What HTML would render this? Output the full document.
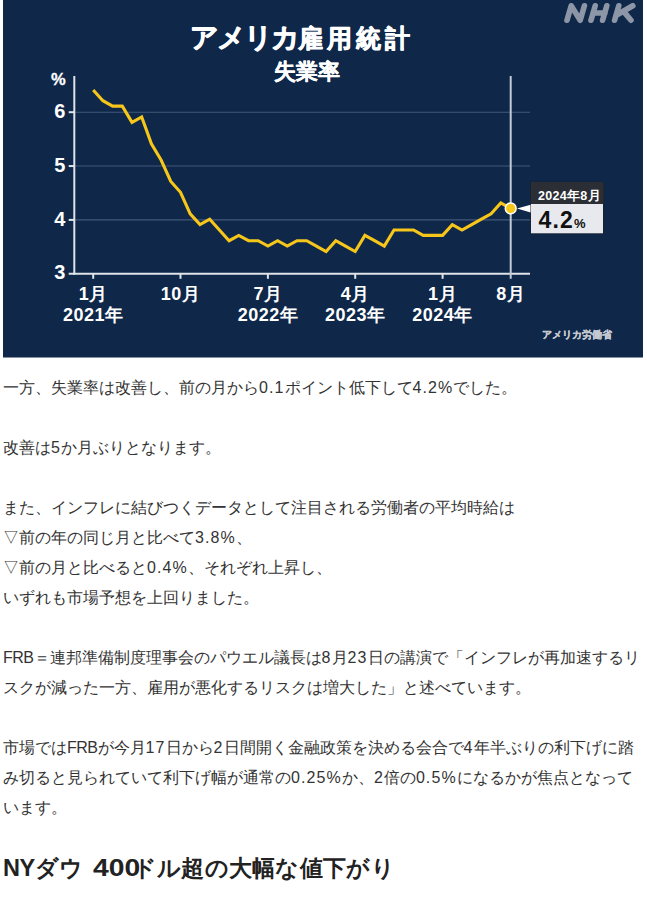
<!DOCTYPE html>
<html lang="ja">
<head>
<meta charset="utf-8">
<style>
html,body{margin:0;padding:0;background:#fff;}
body{width:647px;height:897px;overflow:hidden;position:relative;font-family:"Liberation Sans",sans-serif;}
#chart{position:absolute;left:0;top:0;}
#txt{position:absolute;left:3px;top:373px;font-size:16px;line-height:30px;color:#333;white-space:nowrap;}
#txt p{margin:0 0 30px 0;}
.l{letter-spacing:1.1px;}
.f{letter-spacing:-0.5px;}
#h{position:absolute;left:3px;top:850px;font-size:22.5px;line-height:36px;font-weight:bold;color:#222;white-space:nowrap;margin:0;}
</style>
</head>
<body>
<svg id="chart" width="647" height="360" viewBox="0 0 647 360" font-family="Liberation Sans, sans-serif">
<rect x="3" y="0" width="640" height="357.5" fill="#0f2849"/>
<!-- NHK logo -->
<g fill="none" stroke="#8c96a6" stroke-width="5.6" stroke-linecap="round" stroke-linejoin="round">
<path d="M567,20.2 L571.2,5.8 L580.2,20.2 L584.4,5.8"/>
<path d="M591,20.2 L595.2,5.8 M593,13 L605,13 M602.6,20.2 L606.8,5.8"/>
<path d="M614.6,20.2 L618.8,5.8 M632.8,5.8 L618,14.2 M624.4,12.4 L631,20.2"/>
</g>
<text x="189.5" y="46.6" font-size="24.6" letter-spacing="4.1" font-weight="bold" fill="#fff" stroke="#fff" stroke-width="0.8" stroke-linejoin="round"><tspan font-size="28" letter-spacing="-1.9">アメリカ</tspan>雇用統計</text>
<text x="274" y="79" font-size="21.5" font-weight="bold" fill="#fff" stroke="#fff" stroke-width="0.3" stroke-linejoin="round">失業率</text>
<!-- gridlines -->
<g stroke="#43577a" stroke-width="1.1">
<line x1="74" y1="112.2" x2="530" y2="112.2"/>
<line x1="74" y1="166.05" x2="530" y2="166.05"/>
<line x1="74" y1="219.9" x2="530" y2="219.9"/>
</g>
<!-- axes -->
<g stroke="#dfe3ea" stroke-width="2">
<line x1="74.3" y1="76" x2="74.3" y2="274.8"/>
<line x1="68.7" y1="273.8" x2="530" y2="273.8"/>
<line x1="68.7" y1="112.2" x2="74.3" y2="112.2"/>
<line x1="68.7" y1="166.05" x2="74.3" y2="166.05"/>
<line x1="68.7" y1="219.9" x2="74.3" y2="219.9"/>
<line x1="93.2" y1="273.8" x2="93.2" y2="278.8"/>
<line x1="180.5" y1="273.8" x2="180.5" y2="278.8"/>
<line x1="267.9" y1="273.8" x2="267.9" y2="278.8"/>
<line x1="355.2" y1="273.8" x2="355.2" y2="278.8"/>
<line x1="442.6" y1="273.8" x2="442.6" y2="278.8"/>
</g>
<line x1="510.7" y1="76" x2="510.7" y2="278.8" stroke="#c3cad6" stroke-width="2"/>
<!-- y labels -->
<g font-size="20" font-weight="bold" fill="#fff" text-anchor="end">
<text x="65.7" y="84.8" font-size="16.5" stroke="#fff" stroke-width="0.3">%</text>
<text x="65.4" y="117.8">6</text>
<text x="65.4" y="171.6">5</text>
<text x="65.4" y="225.5">4</text>
<text x="65.4" y="279.3">3</text>
</g>
<!-- x labels -->
<g font-size="18" font-weight="bold" fill="#fff" text-anchor="middle" letter-spacing="0.5">
<text x="93.2" y="300">1月</text><text x="93.2" y="321.3">2021年</text>
<text x="180.5" y="300">10月</text>
<text x="267.9" y="300">7月</text><text x="267.9" y="321.3">2022年</text>
<text x="355.2" y="300">4月</text><text x="355.2" y="321.3">2023年</text>
<text x="442.6" y="300">1月</text><text x="442.6" y="321.3">2024年</text>
<text x="510.7" y="300">8月</text>
</g>
<polyline fill="none" stroke="#f6c61b" stroke-width="3.1" stroke-linejoin="miter" stroke-linecap="butt" points="93.2,90.0 102.9,100.7 112.6,106.1 122.3,106.1 132.0,122.3 141.7,116.9 151.4,143.8 161.1,160.0 170.8,181.5 180.5,192.3 190.2,213.8 200.0,224.6 209.7,219.2 219.4,230.0 229.1,240.7 238.8,235.4 248.5,240.7 258.2,240.7 267.9,246.1 277.6,240.7 287.3,246.1 297.0,240.7 306.7,240.7 316.4,246.1 326.1,251.5 335.8,240.7 345.5,246.1 355.2,251.5 364.9,235.4 374.6,240.7 384.3,246.1 394.0,230.0 403.7,230.0 413.5,230.0 423.2,235.4 432.9,235.4 442.6,235.4 452.3,224.6 462.0,230.0 471.7,224.6 481.4,219.2 491.1,213.8 500.8,203.0 510.5,208.4"/>
<circle cx="510.7" cy="208.4" r="5.4" fill="#f6c61b" stroke="#fff" stroke-width="1.5"/>
<!-- callout -->
<polygon points="517,208.6 531.5,204.5 531.5,212.7" fill="#fff"/>
<rect x="530" y="181.5" width="74.5" height="53" fill="#1a1d24" opacity="0.5"/>
<rect x="531" y="182" width="72.5" height="22" fill="#2b2e35"/>
<rect x="531" y="204" width="72" height="29.3" fill="#e8e9ee"/>
<text x="538" y="200" font-size="12.5" font-weight="bold" fill="#fff" letter-spacing="0.3">2024年8月</text>
<text x="538.5" y="227.5" font-size="23" font-weight="bold" fill="#111" letter-spacing="1.2">4.2<tspan font-size="13" letter-spacing="0">%</tspan></text>
<text x="541.5" y="337.8" font-size="10" font-weight="bold" fill="#c5c9d1" stroke="#c5c9d1" stroke-width="0.25">アメリカ労働省</text>
</svg>
<div id="txt">
<p>一方、失業率は改善し、前の月から<span class="l">0.1</span>ポイント低下して<span class="l">4.2%</span>でした。</p>
<p>改善は<span class="l">5</span>か月ぶりとなります。</p>
<p>また、インフレに結びつくデータとして注目される労働者の平均時給は<br>▽前の年の同じ月と比べて<span class="l">3.8%</span>、<br>▽前の月と比べると<span class="l">0.4%</span>、それぞれ上昇し、<br>いずれも市場予想を上回りました。</p>
<p><span class="f">FRB</span>＝連邦準備制度理事会のパウエル議長は<span class="l">8</span>月<span class="l">23</span>日の講演で「インフレが再加速するリ<br>スクが減った一方、雇用が悪化するリスクは増大した」と述べています。</p>
<p>市場では<span class="f">FRB</span>が今月<span class="l">17</span>日から<span class="l">2</span>日間開く金融政策を決める会合で<span class="l">4</span>年半ぶりの利下げに踏<br>み切ると見られていて利下げ幅が通常の<span class="l">0.25%</span>か、<span class="l">2</span>倍の<span class="l">0.5%</span>になるかが焦点となって<br>います。</p>
</div>
<h2 id="h"><span style="font-size:23.5px;letter-spacing:-0.4px">NY</span>ダウ <span style="display:inline-block;width:40px;margin-left:3.5px"><span style="display:inline-block;font-size:24px;transform:scaleX(1.18);transform-origin:0 0">400</span></span><span style="letter-spacing:0.3px">ドル超の大幅な値下がり</span></h2>
</body>
</html>
